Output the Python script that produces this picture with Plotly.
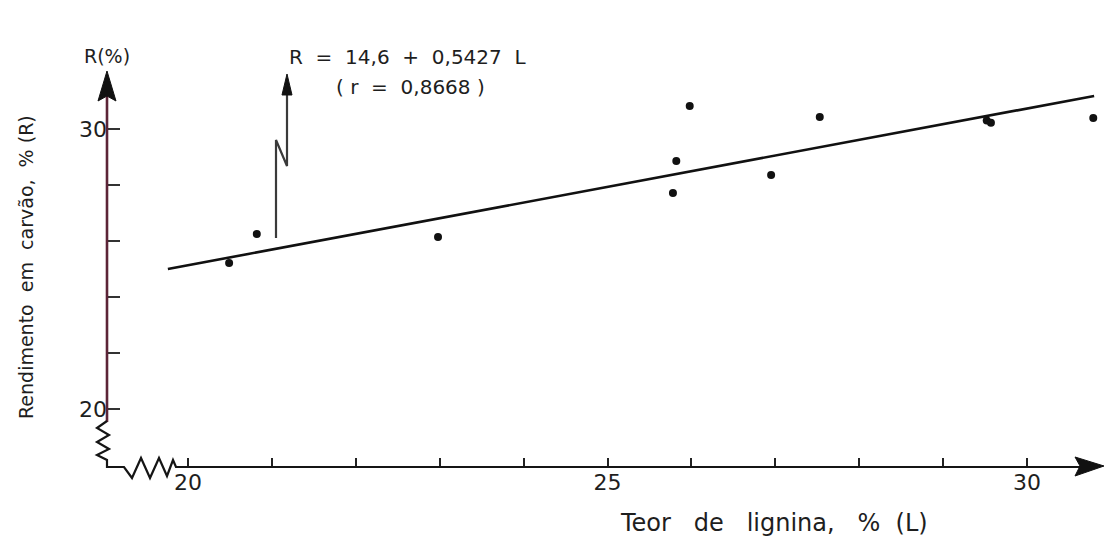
import plotly.graph_objects as go

# ---- data ----
lignin = [20.49, 20.82, 22.98, 25.78, 25.82, 25.98, 26.95, 27.53, 29.52, 29.57, 30.79]
yield_r = [25.21, 26.25, 26.14, 27.71, 28.86, 30.82, 28.36, 30.43, 30.30, 30.22, 30.39]
fit_L = [19.76, 30.80]
fit_R = [25.00, 31.18]
x_tick_vals = list(range(20, 31))
x_tick_text = ["20", "", "", "", "", "25", "", "", "", "", "30"]
y_tick_vals = [20, 22, 24, 26, 28, 30]
y_tick_text = ["20", "", "", "", "", "30"]

W, H = 1108, 541
# pixel <-> data mapping of the reference
X0_PX, X_SCALE = 188.0, 83.9   # L=20 at px 188
Y0_PX, Y_SCALE = 409.0, 28.0   # R=20 at py 409


def L_at(pxv):
    return 20 + (pxv - X0_PX) / X_SCALE


def R_at(pyv):
    return 20 + (Y0_PX - pyv) / Y_SCALE


def px(x):
    return x / W


def py(y):
    return 1 - y / H


FONT = "DejaVu Sans"
INK = "#1e1e1e"
NB = "\u00a0"

fig = go.Figure()

fig.add_trace(go.Scatter(x=fit_L, y=fit_R, mode="lines",
                         line=dict(color="#111111", width=2.6),
                         hoverinfo="skip", showlegend=False))
fig.add_trace(go.Scatter(x=lignin, y=yield_r, mode="markers",
                         marker=dict(color="#111111", size=8),
                         showlegend=False))

shapes = []


def path(pts, color, width=2.4, fill=None):
    d = "M " + " L ".join(f"{px(a):.5f},{py(b):.5f}" for a, b in pts)
    if fill:
        d += " Z"
    s = dict(type="path", path=d, xref="paper", yref="paper",
             line=dict(color=color, width=width))
    if fill:
        s["fillcolor"] = fill
    shapes.append(s)


# y axis (maroon tinted vertical)
path([(107, 96), (107, 422)], "#5c2437", 2.6)
# y axis break zigzag and corner, then x axis
path([(107, 421), (97, 428), (109, 435), (97, 442), (109, 449), (97, 455),
      (107, 460), (107, 467), (124, 467), (132, 478), (141, 458), (150, 478),
      (159, 458), (167, 476), (173, 460), (176, 467), (1080, 467)], "#151515", 2.2)
# arrowheads
path([(107, 71), (98, 101), (107, 96), (116, 101)], "#111111", 1, fill="#111111")
path([(1104, 466), (1075, 457), (1080, 466), (1075, 476)], "#111111", 1, fill="#111111")
# small break arrow near the fitted line
path([(276, 238), (276, 140), (287, 166), (287, 92)], "#3a3a3a", 2.2)
path([(287, 74), (282, 95), (292, 95)], "#111111", 1, fill="#111111")

annotations = [
    dict(x=px(107), y=py(56), text="R(%)", font=dict(size=19, color=INK, family=FONT)),
    dict(x=px(407), y=py(57), text=f"R{NB*2}={NB*2}14,6{NB*2}+{NB*2}0,5427{NB*2}L",
         font=dict(size=20, color=INK, family=FONT)),
    dict(x=px(410), y=py(87), text=f"({NB}r{NB*2}={NB*2}0,8668{NB})",
         font=dict(size=20, color=INK, family=FONT)),
    dict(x=px(774), y=py(523),
         text=f"Teor{NB*3}de{NB*3}lignina,{NB*3}%{NB*2}(L)",
         font=dict(size=24, color=INK, family=FONT)),
    dict(x=px(26), y=py(267), text=f"Rendimento{NB*2}em{NB*2}carvão,{NB*2}%{NB}(R)", textangle=-90,
         font=dict(size=19, color=INK, family=FONT)),
]
for a in annotations:
    a.update(xref="paper", yref="paper", showarrow=False, xanchor="center", yanchor="middle")

fig.update_layout(
    width=W, height=H,
    margin=dict(l=0, r=0, t=0, b=0),
    paper_bgcolor="white", plot_bgcolor="white",
    showlegend=False,
    shapes=shapes,
    annotations=annotations,
    xaxis=dict(range=[L_at(0), L_at(W)], anchor="free", position=py(467),
               showline=False, showgrid=False, zeroline=False,
               tickmode="array", tickvals=x_tick_vals, ticktext=x_tick_text,
               ticks="inside", ticklen=9, tickwidth=2, tickcolor="#222222",
               tickfont=dict(size=22, color=INK, family=FONT)),
    yaxis=dict(range=[R_at(H), R_at(0)], anchor="free", position=px(107),
               showline=False, showgrid=False, zeroline=False,
               tickmode="array", tickvals=y_tick_vals, ticktext=y_tick_text,
               ticks="inside", ticklen=12, tickwidth=2, tickcolor="#333333",
               tickfont=dict(size=22, color=INK, family=FONT)),
)

fig.write_html("out.html")
